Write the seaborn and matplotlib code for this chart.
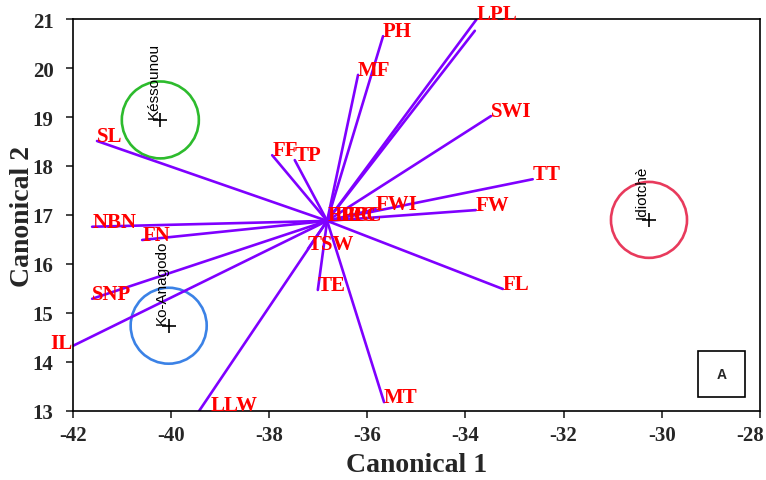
import numpy as np
import pandas as pd
import matplotlib
matplotlib.use("Agg")
import matplotlib.pyplot as plt
from matplotlib.patches import Circle, Rectangle
import matplotlib.transforms as mtransforms
import seaborn as sns

# canonical structure vectors (all drawn from the common origin)
origin = (-36.82, 16.88)
var_names = ["PH", "MF", "LPL", "LPL", "SWI", "TT", "FW", "FWI", "FL", "MT",
             "TE", "TSW", "LLW", "IL", "SNP", "FN", "NBN", "SL", "FF", "TP"]
var_x = [-35.68, -36.19, -33.77, -33.81, -33.48, -32.63, -33.79, -35.83, -33.24, -35.66,
         -37.01, -37.21, -39.43, -42.00, -41.61, -40.59, -41.61, -41.51, -37.94, -37.48]
var_y = [20.65, 19.86, 21.00, 20.76, 19.02, 17.73, 17.10, 17.12, 15.49, 13.18,
         15.47, 16.31, 13.00, 14.33, 15.29, 16.49, 16.76, 18.51, 18.22, 18.12]
show_label = [True, True, True, False, True, True, True, True, True, True,
              True, True, True, True, True, True, True, True, True, True]

# overlapping labels clustered at the origin
center_names = ["EPC", "LPC", "FPC"]
center_x = [-36.82, -36.66, -36.52]
center_y = [17.0, 17.0, 17.0]

# group centroids and 95% circles
groups = ["Késsounou", "Ko-Anagodo", "Idiotchè"]
group_x = [-40.22, -40.05, -30.26]
group_y = [18.94, 14.74, 16.90]
group_r = [0.785, 0.775, 0.775]
group_colors = ["#2dbb2d", "#3b82e6", "#e83a5c"]

vec_color = "#7f00ff"

sns.set_style("white")
plt.rcParams["font.family"] = ["Liberation Serif", "DejaVu Serif"]
plt.rcParams["axes.unicode_minus"] = False

fig, ax = plt.subplots(figsize=(7.66, 4.81), dpi=100)
fig.subplots_adjust(left=0.0953, right=0.992, bottom=0.1435, top=0.9584)

rows = []
for i, (x, y) in enumerate(zip(var_x, var_y)):
    rows.append({"vec": i, "x": origin[0], "y": origin[1]})
    rows.append({"vec": i, "x": x, "y": y})
vec_df = pd.DataFrame(rows)
sns.lineplot(data=vec_df, x="x", y="y", units="vec", estimator=None, sort=False,
             color=vec_color, linewidth=1.9, ax=ax, legend=False)

label_style = dict(color="red", fontsize=15, fontweight="bold",
                   family=["Liberation Serif", "DejaVu Serif"])
for name, x, y, show in zip(var_names, var_x, var_y, show_label):
    if not show:
        continue
    if name == "IL":
        ax.text(x, y + 0.06, name, ha="right", va="center", clip_on=False, **label_style)
    elif name == "LLW":
        ax.annotate(name, (x, y), xytext=(8, 1), textcoords="offset points",
                    ha="left", va="baseline", **label_style)
    else:
        ax.text(x, y, name, ha="left", va="baseline", **label_style)

for name, x, y in zip(center_names, center_x, center_y):
    ax.text(x, y, name, ha="left", va="center", **label_style)

for g, x, y, r, c in zip(groups, group_x, group_y, group_r, group_colors):
    ax.add_patch(Circle((x, y), r, fill=False, edgecolor=c, linewidth=1.9))
    ax.text(x, y + 0.03, g, rotation=90, ha="right", va="bottom", fontsize=11,
            family=["Liberation Sans", "DejaVu Sans"], color="black")

cent_df = pd.DataFrame({"x": group_x, "y": group_y})
sns.scatterplot(data=cent_df, x="x", y="y", marker="+", s=90, color="black",
                linewidth=1.2, ax=ax, legend=False, zorder=5)

ax.add_patch(Rectangle((0.910, 0.0357), 0.0684, 0.117, transform=ax.transAxes,
                       fill=False, edgecolor="black", linewidth=1.2))
ax.text(0.944, 0.094, "A", transform=ax.transAxes, ha="center", va="center",
        fontsize=10, fontweight="bold", family=["Liberation Sans", "DejaVu Sans"])

ax.set_xlim(-42, -28)
ax.set_ylim(13, 21)
ax.set_xticks(np.arange(-42, -27, 2))
ax.set_yticks(np.arange(13, 22, 1))
ax.tick_params(direction="out", length=5, width=1.2, labelsize=15,
               bottom=True, left=True)
ax.tick_params(axis="y", pad=9)
ax.tick_params(axis="x", pad=5)
for lab in ax.get_xticklabels() + ax.get_yticklabels():
    lab.set_fontweight("bold")
# keep the last x tick label inside the figure
last = ax.get_xticklabels()[-1]
last.set_transform(last.get_transform() +
                   mtransforms.ScaledTranslation(-10 / 100, 0, fig.dpi_scale_trans))
for sp in ax.spines.values():
    sp.set_color("black")
    sp.set_linewidth(1.2)

ax.set_xlabel("Canonical 1", fontsize=20, fontweight="bold")
ax.set_ylabel("Canonical 2", fontsize=20, fontweight="bold")
ax.xaxis.set_label_coords(0.5, -0.105)
ax.yaxis.set_label_coords(-0.055, 0.5)

fig.savefig("out.png", dpi=100)
